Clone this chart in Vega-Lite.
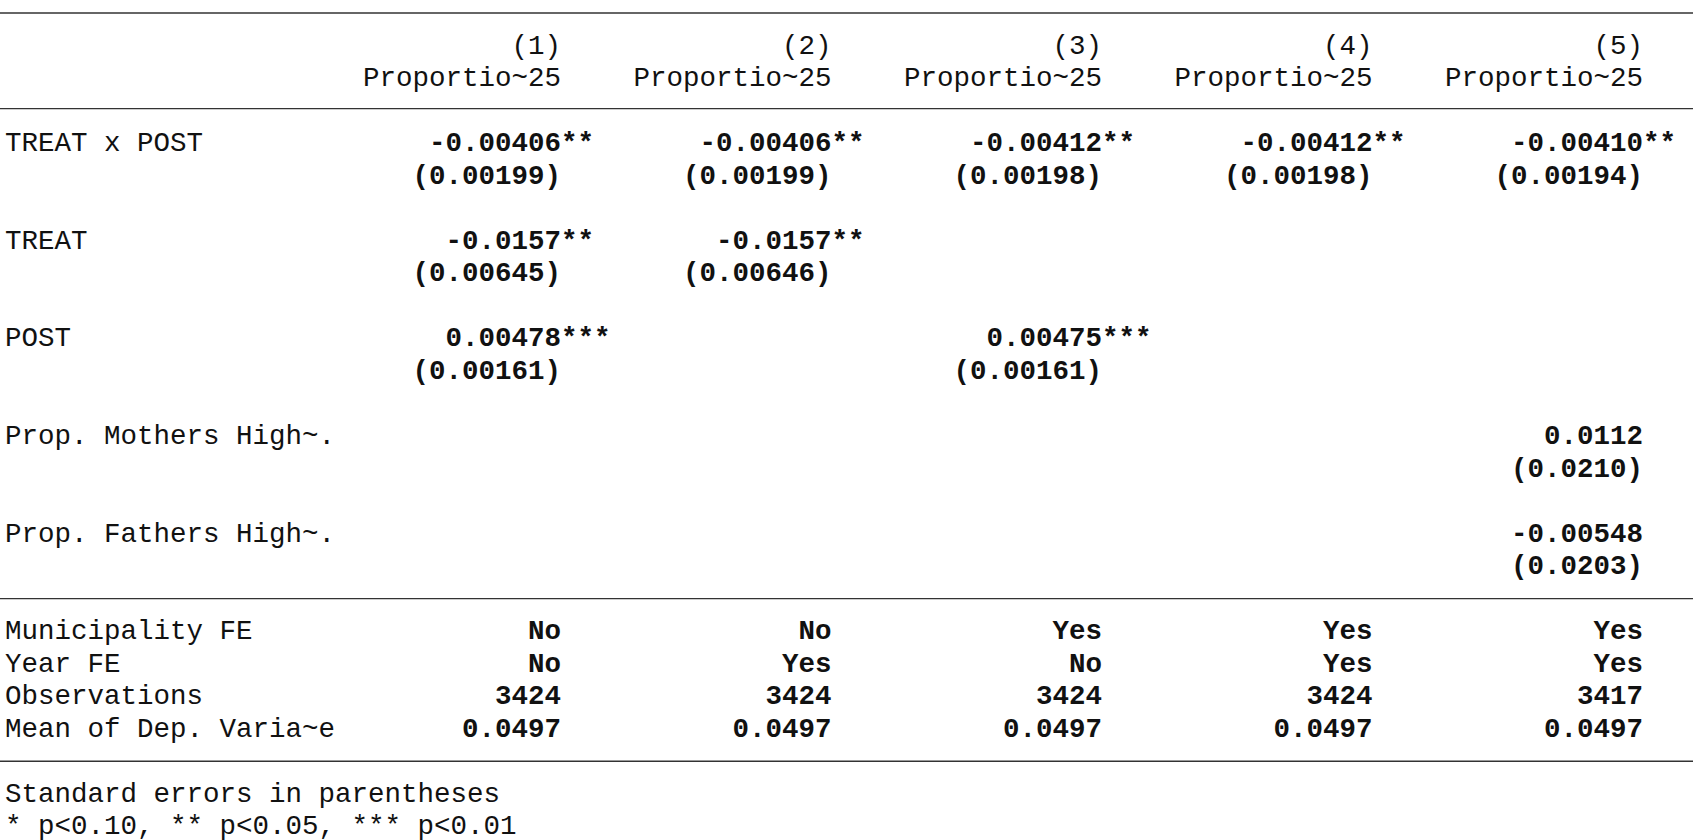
{
  "$schema": "https://vega.github.io/schema/vega-lite/v6.json",
  "width": 1695,
  "height": 840,
  "autosize": {"type": "none"},
  "padding": 0,
  "background": "white",
  "config": {"view": {"stroke": null}},
  "datasets": {
    "cells": [
      {"col": 1, "line": 1, "label": "(1)", "stars": "", "bold": false},
      {"col": 2, "line": 1, "label": "(2)", "stars": "", "bold": false},
      {"col": 3, "line": 1, "label": "(3)", "stars": "", "bold": false},
      {"col": 4, "line": 1, "label": "(4)", "stars": "", "bold": false},
      {"col": 5, "line": 1, "label": "(5)", "stars": "", "bold": false},
      {"col": 1, "line": 2, "label": "Proportio~25", "stars": "", "bold": false},
      {"col": 2, "line": 2, "label": "Proportio~25", "stars": "", "bold": false},
      {"col": 3, "line": 2, "label": "Proportio~25", "stars": "", "bold": false},
      {"col": 4, "line": 2, "label": "Proportio~25", "stars": "", "bold": false},
      {"col": 5, "line": 2, "label": "Proportio~25", "stars": "", "bold": false},
      {"col": 1, "line": 4, "label": "-0.00406", "stars": "**", "bold": true},
      {"col": 2, "line": 4, "label": "-0.00406", "stars": "**", "bold": true},
      {"col": 3, "line": 4, "label": "-0.00412", "stars": "**", "bold": true},
      {"col": 4, "line": 4, "label": "-0.00412", "stars": "**", "bold": true},
      {"col": 5, "line": 4, "label": "-0.00410", "stars": "**", "bold": true},
      {"col": 1, "line": 5, "label": "(0.00199)", "stars": "", "bold": true},
      {"col": 2, "line": 5, "label": "(0.00199)", "stars": "", "bold": true},
      {"col": 3, "line": 5, "label": "(0.00198)", "stars": "", "bold": true},
      {"col": 4, "line": 5, "label": "(0.00198)", "stars": "", "bold": true},
      {"col": 5, "line": 5, "label": "(0.00194)", "stars": "", "bold": true},
      {"col": 1, "line": 7, "label": "-0.0157", "stars": "**", "bold": true},
      {"col": 2, "line": 7, "label": "-0.0157", "stars": "**", "bold": true},
      {"col": 1, "line": 8, "label": "(0.00645)", "stars": "", "bold": true},
      {"col": 2, "line": 8, "label": "(0.00646)", "stars": "", "bold": true},
      {"col": 1, "line": 10, "label": "0.00478", "stars": "***", "bold": true},
      {"col": 3, "line": 10, "label": "0.00475", "stars": "***", "bold": true},
      {"col": 1, "line": 11, "label": "(0.00161)", "stars": "", "bold": true},
      {"col": 3, "line": 11, "label": "(0.00161)", "stars": "", "bold": true},
      {"col": 5, "line": 13, "label": "0.0112", "stars": "", "bold": true},
      {"col": 5, "line": 14, "label": "(0.0210)", "stars": "", "bold": true},
      {"col": 5, "line": 16, "label": "-0.00548", "stars": "", "bold": true},
      {"col": 5, "line": 17, "label": "(0.0203)", "stars": "", "bold": true},
      {"col": 1, "line": 19, "label": "No", "stars": "", "bold": true},
      {"col": 2, "line": 19, "label": "No", "stars": "", "bold": true},
      {"col": 3, "line": 19, "label": "Yes", "stars": "", "bold": true},
      {"col": 4, "line": 19, "label": "Yes", "stars": "", "bold": true},
      {"col": 5, "line": 19, "label": "Yes", "stars": "", "bold": true},
      {"col": 1, "line": 20, "label": "No", "stars": "", "bold": true},
      {"col": 2, "line": 20, "label": "Yes", "stars": "", "bold": true},
      {"col": 3, "line": 20, "label": "No", "stars": "", "bold": true},
      {"col": 4, "line": 20, "label": "Yes", "stars": "", "bold": true},
      {"col": 5, "line": 20, "label": "Yes", "stars": "", "bold": true},
      {"col": 1, "line": 21, "label": "3424", "stars": "", "bold": true},
      {"col": 2, "line": 21, "label": "3424", "stars": "", "bold": true},
      {"col": 3, "line": 21, "label": "3424", "stars": "", "bold": true},
      {"col": 4, "line": 21, "label": "3424", "stars": "", "bold": true},
      {"col": 5, "line": 21, "label": "3417", "stars": "", "bold": true},
      {"col": 1, "line": 22, "label": "0.0497", "stars": "", "bold": true},
      {"col": 2, "line": 22, "label": "0.0497", "stars": "", "bold": true},
      {"col": 3, "line": 22, "label": "0.0497", "stars": "", "bold": true},
      {"col": 4, "line": 22, "label": "0.0497", "stars": "", "bold": true},
      {"col": 5, "line": 22, "label": "0.0497", "stars": "", "bold": true}
    ],
    "rowlabels": [
      {"line": 4, "label": "TREAT x POST"},
      {"line": 7, "label": "TREAT"},
      {"line": 10, "label": "POST"},
      {"line": 13, "label": "Prop. Mothers High~."},
      {"line": 16, "label": "Prop. Fathers High~."},
      {"line": 19, "label": "Municipality FE"},
      {"line": 20, "label": "Year FE"},
      {"line": 21, "label": "Observations"},
      {"line": 22, "label": "Mean of Dep. Varia~e"},
      {"line": 24, "label": "Standard errors in parentheses"},
      {"line": 25, "label": "* p<0.10, ** p<0.05, *** p<0.01"}
    ],
    "rules": [{"line": 0}, {"line": 2.94}, {"line": 18}, {"line": 23}]
  },
  "encoding": {
    "y": {"field": "line", "type": "quantitative", "scale": {"domain": [0, 28], "range": [13, 924]}, "axis": null}
  },
  "layer": [
    {
      "data": {"name": "rules"},
      "mark": {"type": "rule", "color": "#333", "strokeWidth": 1.4},
      "encoding": {"x": {"value": 0}, "x2": {"value": 1693}}
    },
    {
      "data": {"name": "rowlabels"},
      "mark": {"type": "text", "align": "left", "baseline": "middle", "font": "Liberation Mono", "fontSize": 27.5, "color": "#111"},
      "encoding": {"x": {"value": 5}, "text": {"field": "label"}}
    },
    {
      "data": {"name": "cells"},
      "transform": [{"filter": "!datum.bold"}],
      "mark": {"type": "text", "align": "right", "baseline": "middle", "font": "Liberation Mono", "fontSize": 27.5, "color": "#111"},
      "encoding": {
        "x": {"field": "col", "type": "quantitative", "scale": {"domain": [1, 5], "range": [561, 1643]}, "axis": null},
        "text": {"field": "label"}
      }
    },
    {
      "data": {"name": "cells"},
      "transform": [{"filter": "datum.bold"}],
      "mark": {"type": "text", "align": "right", "baseline": "middle", "font": "Liberation Mono", "fontSize": 27.5, "fontWeight": "bold", "color": "#111"},
      "encoding": {
        "x": {"field": "col", "type": "quantitative", "scale": {"domain": [1, 5], "range": [561, 1643]}, "axis": null},
        "text": {"field": "label"}
      }
    },
    {
      "data": {"name": "cells"},
      "mark": {"type": "text", "align": "left", "baseline": "middle", "font": "Liberation Mono", "fontSize": 27.5, "fontWeight": "bold", "color": "#111"},
      "encoding": {
        "x": {"field": "col", "type": "quantitative", "scale": {"domain": [1, 5], "range": [561, 1643]}, "axis": null},
        "text": {"field": "stars"}
      }
    }
  ]
}
